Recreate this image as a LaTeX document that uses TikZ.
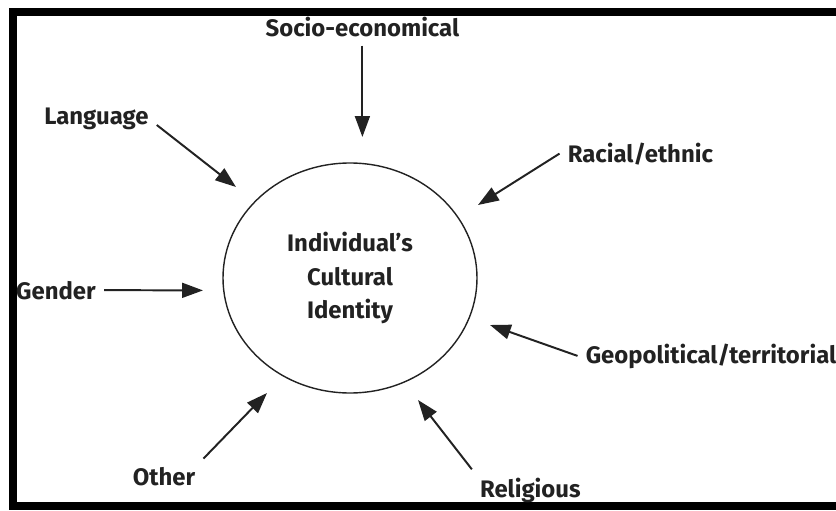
\documentclass[tikz,border=0pt]{standalone}
\usepackage{fontspec}
\setmainfont{Fira Sans}
\usetikzlibrary{arrows.meta,shapes.geometric}
\definecolor{ink}{HTML}{222222}

\begin{document}
\begin{tikzpicture}[
    factor/.style={inner sep=0.2cm, text=ink, font=\fontsize{17}{24}\selectfont\bfseries},
    influence/.style={draw=ink, line width=1.4pt, -{Triangle[length=0.52cm, width=0.37cm]}}
  ]
    \useasboundingbox (0,0) rectangle (20.9,12.75);

    % open frame, right side runs off the page
    \draw [line width=0.2cm, line join=miter] (21.3,12.45) -- (0.325,12.45) -- (0.325,0.1) -- (21.3,0.1);

    % centre
    \node (identity) [ellipse, draw=ink, line width=1pt, minimum width=6.35cm, minimum height=5.75cm,
        align=center, text=ink, font=\fontsize{17}{24}\selectfont\bfseries] at (8.75,5.8)
        {Individual’s\\Cultural\\Identity};

    % factors around it
    \node (socio) [factor, anchor=base] at (9.06,11.825) {Socio-economical};
    \node (language) [factor, anchor=base] at (2.41,9.625) {Language};
    \node (racial) [factor, anchor=base] at (16.01,8.7) {Racial/ethnic};
    \node (gender) [factor, anchor=base] at (1.4,5.275) {Gender};
    \node (geo) [factor, anchor=base] at (17.775,3.675) {Geopolitical/territorial};
    \node (other) [factor, anchor=base] at (4.1,0.625) {Other};
    \node (religious) [factor, anchor=base] at (13.26,0.325) {Religious};

    % arrow tips stop short of the ellipse
    \coordinate (socio tip) at (9.06,9.325);
    \coordinate (language tip) at (5.9,8.075);
    \coordinate (racial tip) at (11.95,7.625);
    \coordinate (gender tip) at (5.075,5.49);
    \coordinate (geo tip) at (12.25,4.625);
    \coordinate (other tip) at (6.675,2.925);
    \coordinate (religious tip) at (10.45,2.75);

    \draw [influence] (socio.south) -- (socio tip);
    \draw [influence] (language.base east) -- (language tip);
    \draw [influence] (racial.west) -- (racial tip);
    \draw [influence] (gender.east) -- (gender tip);
    \draw [influence] (geo.west) -- (geo tip);
    \draw [influence] (other.north east) -- (other tip);
    \draw [influence] (religious.north west) -- (religious tip);
\end{tikzpicture}
\end{document}
